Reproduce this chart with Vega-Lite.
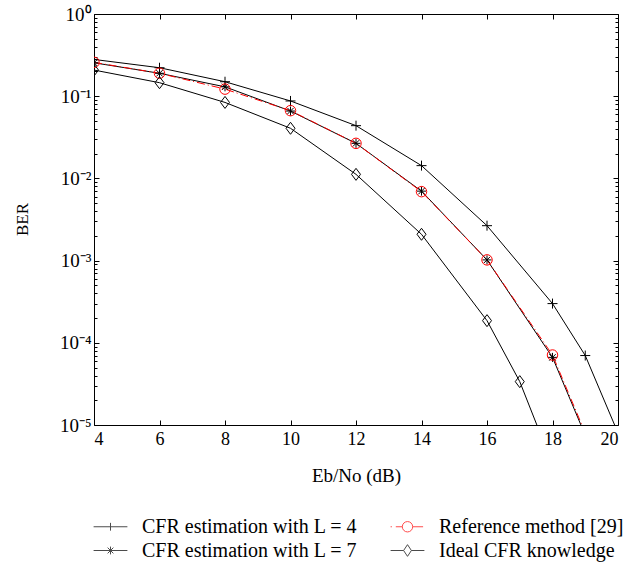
{
  "$schema": "https://vega.github.io/schema/vega-lite/v6.json",
  "width": 524,
  "height": 411,
  "autosize": {"type": "none"},
  "padding": {"left": 94, "top": 14, "right": 19, "bottom": 142},
  "background": "white",
  "datasets": {
    "ber": [
      {"series": "CFR estimation with L = 4", "snr": 4, "ber": 0.28},
      {"series": "CFR estimation with L = 4", "snr": 6, "ber": 0.222},
      {"series": "CFR estimation with L = 4", "snr": 8, "ber": 0.15},
      {"series": "CFR estimation with L = 4", "snr": 10, "ber": 0.0875},
      {"series": "CFR estimation with L = 4", "snr": 12, "ber": 0.0438},
      {"series": "CFR estimation with L = 4", "snr": 14, "ber": 0.0143},
      {"series": "CFR estimation with L = 4", "snr": 16, "ber": 0.00266},
      {"series": "CFR estimation with L = 4", "snr": 18, "ber": 0.0003},
      {"series": "CFR estimation with L = 4", "snr": 19, "ber": 0.00007},
      {"series": "CFR estimation with L = 4", "snr": 20, "ber": 0.000008},
      {"series": "CFR estimation with L = 7", "snr": 4, "ber": 0.255},
      {"series": "CFR estimation with L = 7", "snr": 6, "ber": 0.19},
      {"series": "CFR estimation with L = 7", "snr": 8, "ber": 0.13},
      {"series": "CFR estimation with L = 7", "snr": 10, "ber": 0.066},
      {"series": "CFR estimation with L = 7", "snr": 12, "ber": 0.0267},
      {"series": "CFR estimation with L = 7", "snr": 14, "ber": 0.007},
      {"series": "CFR estimation with L = 7", "snr": 16, "ber": 0.00102},
      {"series": "CFR estimation with L = 7", "snr": 18, "ber": 0.0000665},
      {"series": "CFR estimation with L = 7", "snr": 19, "ber": 0.0000075},
      {"series": "Reference method [29]", "snr": 4, "ber": 0.258},
      {"series": "Reference method [29]", "snr": 6, "ber": 0.19},
      {"series": "Reference method [29]", "snr": 8, "ber": 0.122},
      {"series": "Reference method [29]", "snr": 10, "ber": 0.0667},
      {"series": "Reference method [29]", "snr": 12, "ber": 0.0267},
      {"series": "Reference method [29]", "snr": 14, "ber": 0.0069},
      {"series": "Reference method [29]", "snr": 16, "ber": 0.00102},
      {"series": "Reference method [29]", "snr": 18, "ber": 0.000071},
      {"series": "Reference method [29]", "snr": 19, "ber": 0.000008},
      {"series": "Ideal CFR knowledge", "snr": 4, "ber": 0.208},
      {"series": "Ideal CFR knowledge", "snr": 6, "ber": 0.146},
      {"series": "Ideal CFR knowledge", "snr": 8, "ber": 0.084},
      {"series": "Ideal CFR knowledge", "snr": 10, "ber": 0.0407},
      {"series": "Ideal CFR knowledge", "snr": 12, "ber": 0.0112},
      {"series": "Ideal CFR knowledge", "snr": 14, "ber": 0.00209},
      {"series": "Ideal CFR knowledge", "snr": 16, "ber": 0.000186},
      {"series": "Ideal CFR knowledge", "snr": 17, "ber": 0.0000337},
      {"series": "Ideal CFR knowledge", "snr": 18, "ber": 0.0000033}
    ]
  },
  "layer": [
    {
      "data": {"name": "ber"},
      "transform": [{"filter": "datum.series !== 'Reference method [29]'"}],
      "mark": {"type": "line", "color": "black", "strokeWidth": 1, "clip": true},
      "encoding": {
        "x": {"field": "snr", "type": "quantitative",
              "scale": {"domain": [4, 20], "nice": false, "zero": false},
              "axis": {"orient": "bottom", "values": [4, 6, 8, 10, 12, 14, 16, 18, 20], "tickSize": -5,
                       "labelPadding": 10, "title": "Eb/No (dB)", "titleFontSize": 19,
                       "titleY": 50, "titleBaseline": "middle"}},
        "y": {"field": "ber", "type": "quantitative",
              "scale": {"type": "log", "domain": [0.00001, 1], "nice": false},
              "axis": {"orient": "left", "values": [1, 0.1, 0.01, 0.001, 0.0001, 0.00001], "tickSize": -5,
                       "labelPadding": 8, "labelFontSize": 19, "title": "BER", "titleFontSize": 17,
                       "titleX": -72, "titleY": 205, "titleBaseline": "middle", "titleAngle": -90,
                       "labelExpr": "'10' + (datum.value > 0.5 ? '⁰' : datum.value > 0.05 ? '⁻¹' : datum.value > 0.005 ? '⁻²' : datum.value > 0.0005 ? '⁻³' : datum.value > 0.00005 ? '⁻⁴' : '⁻⁵')"}},
        "detail": {"field": "series", "type": "nominal"}
      }
    },
    {
      "data": {"name": "ber"},
      "transform": [{"filter": "datum.series === 'Reference method [29]'"}],
      "mark": {"type": "line", "color": "red", "strokeWidth": 1, "strokeDash": [8, 3, 1, 3], "clip": true},
      "encoding": {
        "x": {"field": "snr", "type": "quantitative",
              "axis": {"orient": "top", "values": [4, 6, 8, 10, 12, 14, 16, 18, 20], "tickSize": -5, "labels": false, "title": null}},
        "y": {"field": "ber", "type": "quantitative",
              "axis": {"orient": "right", "values": [1, 0.1, 0.01, 0.001, 0.0001, 0.00001], "tickSize": -5, "labels": false, "title": null}}
      }
    },
    {
      "data": {"name": "ber"},
      "mark": {"type": "point", "filled": false, "strokeWidth": 1, "size": 100, "opacity": 1, "clip": true},
      "encoding": {
        "x": {"field": "snr", "type": "quantitative", "axis": null},
        "y": {"field": "ber", "type": "quantitative",
              "axis": {"orient": "left", "values": [0.9, 0.8, 0.7, 0.6, 0.5, 0.4, 0.3, 0.2, 0.09, 0.08, 0.07, 0.06, 0.05, 0.04, 0.03, 0.02, 0.009, 0.008, 0.007, 0.006, 0.005, 0.004, 0.003, 0.002, 0.0009, 0.0008, 0.0007, 0.0006, 0.0005, 0.0004, 0.0003, 0.0002, 0.00009, 0.00008, 0.00007, 0.00006, 0.00005, 0.00004, 0.00003, 0.00002], "tickSize": -3, "labels": false, "title": null}},
        "shape": {"field": "series", "type": "nominal", "legend": null,
                  "scale": {"domain": ["CFR estimation with L = 4", "CFR estimation with L = 7", "Reference method [29]", "Ideal CFR knowledge"],
                            "range": ["M-1,0L1,0M0,-1L0,1",
                                      "M-0.9,0L0.9,0M0,-0.9L0,0.9M-0.64,-0.64L0.64,0.64M-0.64,0.64L0.64,-0.64",
                                      "M1.05,0A1.05,1.05,0,1,1,-1.05,0A1.05,1.05,0,1,1,1.05,0Z",
                                      "M0,-1.2L0.9,0L0,1.2L-0.9,0Z"]}},
        "color": {"field": "series", "type": "nominal", "legend": null,
                  "scale": {"domain": ["CFR estimation with L = 4", "CFR estimation with L = 7", "Reference method [29]", "Ideal CFR knowledge"],
                            "range": ["black", "black", "red", "black"]}}
      }
    },
    {
      "data": {"name": "ber"},
      "transform": [{"filter": "false"}],
      "mark": {"type": "point", "filled": false, "strokeWidth": 1},
      "encoding": {
        "x": {"field": "snr", "type": "quantitative", "axis": null},
        "y": {"field": "ber", "type": "quantitative",
              "axis": {"orient": "right", "values": [0.9, 0.8, 0.7, 0.6, 0.5, 0.4, 0.3, 0.2, 0.09, 0.08, 0.07, 0.06, 0.05, 0.04, 0.03, 0.02, 0.009, 0.008, 0.007, 0.006, 0.005, 0.004, 0.003, 0.002, 0.0009, 0.0008, 0.0007, 0.0006, 0.0005, 0.0004, 0.0003, 0.0002, 0.00009, 0.00008, 0.00007, 0.00006, 0.00005, 0.00004, 0.00003, 0.00002], "tickSize": -3, "labels": false, "title": null}},
        "shape": {"field": "series", "type": "nominal",
                  "scale": {"domain": ["CFR estimation with L = 4", "CFR estimation with L = 7", "Reference method [29]", "Ideal CFR knowledge"],
                            "range": ["M-1.3,0L1.3,0M0,-0.3L0,0.3",
                                      "M-1.3,0L1.3,0M0,-0.3L0,0.3M-0.22,-0.22L0.22,0.22M-0.22,0.22L0.22,-0.22",
                                      "M-1.3,0L-1.2,0M-0.9,0L-0.4,0M0.4,0L1.2,0M0.4,0A0.4,0.4,0,1,1,-0.4,0A0.4,0.4,0,1,1,0.4,0",
                                      "M-1.3,0L-0.3,0M0.3,0L1.3,0M0,-0.45L0.3,0L0,0.45L-0.3,0Z"]},
                  "legend": {"title": null, "orient": "none", "legendX": 3, "legendY": 499, "columns": 2,
                             "symbolSize": 676, "symbolStrokeWidth": 1, "symbolFillColor": "transparent",
                             "labelFont": "Liberation Serif", "labelFontSize": 20, "labelColor": "black", "labelLimit": 400,
                             "labelOffset": 18, "columnPadding": 30, "rowPadding": 0}},
        "color": {"field": "series", "type": "nominal",
                  "scale": {"domain": ["CFR estimation with L = 4", "CFR estimation with L = 7", "Reference method [29]", "Ideal CFR knowledge"],
                            "range": ["black", "black", "red", "black"]},
                  "legend": {"title": null, "orient": "none", "legendX": 3, "legendY": 499, "columns": 2,
                             "symbolSize": 676, "symbolStrokeWidth": 1, "symbolFillColor": "transparent",
                             "labelFont": "Liberation Serif", "labelFontSize": 20, "labelColor": "black", "labelLimit": 400,
                             "labelOffset": 18, "columnPadding": 30, "rowPadding": 0}}
      }
    }
  ],
  "resolve": {
    "scale": {"shape": "independent", "color": "independent"},
    "axis": {"x": "independent", "y": "independent"},
    "legend": {"shape": "independent", "color": "independent"}
  },
  "config": {
    "font": "Liberation Serif",
    "view": {"stroke": "black", "strokeWidth": 1},
    "axis": {"domain": false, "grid": false, "tickColor": "black", "tickWidth": 1,
             "labelFont": "Liberation Serif", "labelFontSize": 18, "labelColor": "black",
             "titleFont": "Liberation Serif", "titleFontWeight": "normal", "titleColor": "black"}
  }
}
